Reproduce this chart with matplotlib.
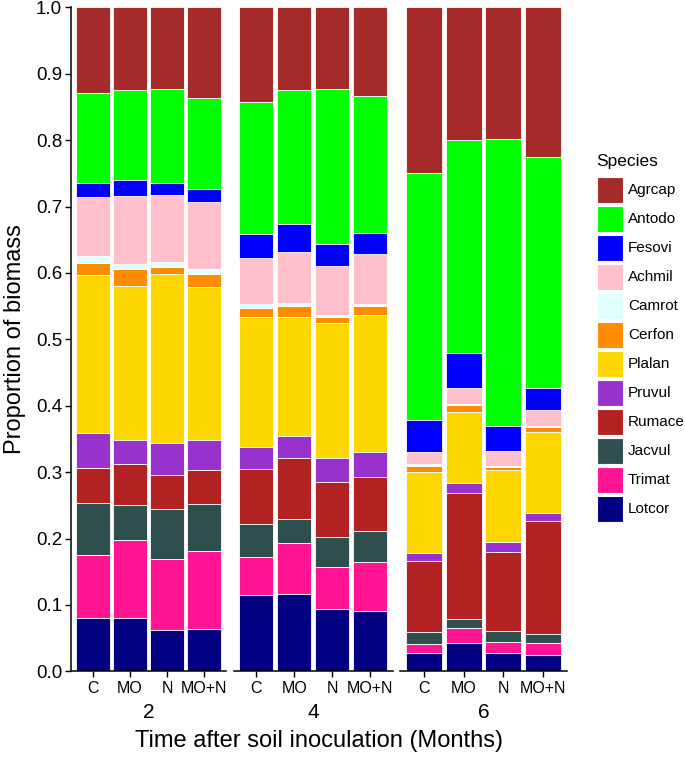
"""
Stacked biomass proportions by species, faceted by months after inoculation.
"""

import matplotlib.pyplot as plt
from matplotlib.patches import Rectangle

plt.rcParams["font.family"] = ["Liberation Sans", "DejaVu Sans"]

months = ["2", "4", "6"]
treatments = ["C", "MO", "N", "MO+N"]

# stacking order, bottom to top
species = ["Lotcor", "Trimat", "Jacvul", "Rumace", "Pruvul", "Plalan",
           "Cerfon", "Camrot", "Achmil", "Fesovi", "Antodo", "Agrcap"]
colors = ["#000080", "#FF1493", "#2F4F4F", "#B22222", "#9932CC", "#FFD700",
          "#FF8C00", "#E0FFFF", "#FFC0CB", "#0000FF", "#00FF00", "#A52A2A"]

# one value per bar: months 2, 4, 6 x treatments C, MO, N, MO+N
Lotcor = [0.081, 0.081, 0.063, 0.064, 0.115, 0.117, 0.094, 0.091, 0.027, 0.043, 0.027, 0.025]
Trimat = [0.094, 0.117, 0.106, 0.118, 0.057, 0.077, 0.063, 0.074, 0.015, 0.022, 0.017, 0.018]
Jacvul = [0.078, 0.053, 0.076, 0.070, 0.050, 0.035, 0.046, 0.047, 0.017, 0.014, 0.017, 0.014]
Rumace = [0.054, 0.061, 0.050, 0.051, 0.083, 0.093, 0.082, 0.081, 0.107, 0.190, 0.119, 0.169]
Pruvul = [0.052, 0.036, 0.049, 0.046, 0.033, 0.032, 0.036, 0.037, 0.013, 0.014, 0.015, 0.013]
Plalan = [0.238, 0.233, 0.255, 0.230, 0.195, 0.180, 0.204, 0.207, 0.122, 0.107, 0.108, 0.122]
Cerfon = [0.018, 0.025, 0.010, 0.019, 0.014, 0.016, 0.008, 0.013, 0.008, 0.011, 0.005, 0.007]
Camrot = [0.010, 0.007, 0.007, 0.008, 0.006, 0.005, 0.004, 0.003, 0.003, 0.002, 0.002, 0.002]
Achmil = [0.089, 0.103, 0.101, 0.101, 0.069, 0.076, 0.074, 0.076, 0.018, 0.024, 0.022, 0.023]
Fesovi = [0.022, 0.024, 0.019, 0.019, 0.037, 0.043, 0.032, 0.031, 0.049, 0.053, 0.038, 0.034]
Antodo = [0.135, 0.135, 0.141, 0.137, 0.198, 0.202, 0.234, 0.207, 0.372, 0.320, 0.431, 0.347]
Agrcap = [0.129, 0.125, 0.123, 0.137, 0.143, 0.124, 0.123, 0.133, 0.249, 0.200, 0.199, 0.226]

values = [Lotcor, Trimat, Jacvul, Rumace, Pruvul, Plalan,
          Cerfon, Camrot, Achmil, Fesovi, Antodo, Agrcap]

W, H = 685, 758


def main():
    fig = plt.figure(figsize=(W / 100, H / 100), dpi=100)

    # panel extents in pixels (left, right)
    panels = [(70.5, 226.5), (233.5, 393.0), (400.0, 567.0)]
    top, bottom = 7.3, 671.4

    x = list(range(len(treatments)))
    for p, (l, r) in enumerate(panels):
        ax = fig.add_axes([l / W, 1 - bottom / H, (r - l) / W, (bottom - top) / H])
        base = [0.0] * len(treatments)
        for sp, col, vals in zip(species, colors, values):
            v = vals[p * 4:(p + 1) * 4]
            ax.bar(x, v, bottom=base, width=0.9, color=col,
                   edgecolor="white", linewidth=0.6)
            base = [b + vv for b, vv in zip(base, v)]
        ax.set_xlim(-0.6, 3.6)
        ax.set_ylim(0, 1)
        ax.set_xticks(x)
        ax.set_xticklabels(treatments, fontsize=11.5)
        ax.set_xlabel(months[p], fontsize=15, labelpad=5)
        for s in ["top", "right"]:
            ax.spines[s].set_visible(False)
        ax.spines["bottom"].set_linewidth(1.1)
        ax.tick_params(axis="x", length=4, width=1.0, pad=3)
        if p == 0:
            ax.spines["left"].set_linewidth(1.1)
            ax.set_yticks([i / 10 for i in range(11)])
            ax.set_yticklabels([f"{i / 10:.1f}" for i in range(11)], fontsize=13.5)
            ax.tick_params(axis="y", length=4, width=1.0, pad=2)
        else:
            ax.spines["left"].set_visible(False)
            ax.set_yticks([])

    fig.text(318.75 / W, 1 - 741 / H, "Time after soil inoculation (Months)",
             ha="center", va="center", fontsize=17)
    fig.text(15 / W, 1 - (top + bottom) / 2 / H, "Proportion of biomass",
             ha="center", va="center", rotation=90, fontsize=17)

    # legend, top entry is the top of the stack
    fig.text(596 / W, 1 - 161.7 / H, "Species", ha="left", va="center",
             fontsize=12.5)
    key_x, key_y, key_w, key_h, pitch = 596.7, 176.7, 26.6, 26.3, 29.0
    for i, (sp, col) in enumerate(zip(species[::-1], colors[::-1])):
        y0 = key_y + i * pitch
        fig.add_artist(Rectangle((key_x / W, 1 - (y0 + key_h) / H),
                                 key_w / W, key_h / H, transform=fig.transFigure,
                                 facecolor=col, edgecolor="white", linewidth=0.8))
        fig.text(628 / W, 1 - (y0 + key_h / 2) / H, sp, ha="left",
                 va="center", fontsize=11)

    fig.savefig("out.png", dpi=100)


if __name__ == "__main__":
    main()
